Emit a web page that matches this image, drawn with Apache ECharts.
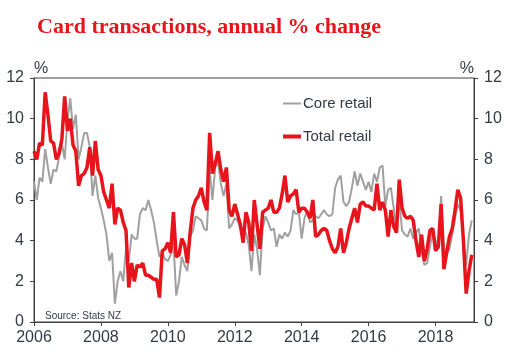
<!DOCTYPE html>
<html>
<head>
<meta charset="utf-8">
<script src="https://cdn.jsdelivr.net/npm/echarts@6/dist/echarts.min.js"></script>
<style>html,body{margin:0;padding:0;background:#fff}#c{width:512px;height:359px}</style>
</head>
<body>
<div id="c"></div>
<script>
// Monthly data, Jan 2006 .. Feb 2019
const startYear = 2006;
const coreRetail = [
6.9,6.0,7.1,6.9,8.5,7.6,6.8,7.5,7.4,8.1,8.8,8.0,
9.9,11.0,9.5,10.2,8.0,8.6,9.3,9.3,8.6,6.2,7.2,6.1,
5.6,5.0,4.3,3.0,3.4,0.9,2.0,2.5,2.0,3.6,3.0,4.3,
4.1,4.1,5.3,5.6,5.5,6.0,5.5,4.9,4.0,3.2,3.4,3.1,
3.0,3.3,4.0,1.3,2.0,3.2,2.8,2.5,4.2,4.5,5.2,5.1,
5.0,4.6,4.5,7.5,6.0,7.6,7.9,6.8,6.2,6.8,4.6,4.8,
5.1,5.0,4.6,4.3,4.4,3.8,2.5,4.3,3.6,2.3,4.6,5.2,
4.9,4.5,4.6,3.7,4.3,4.1,4.4,4.2,4.5,5.5,5.3,5.4,
4.1,5.1,5.5,4.9,5.0,5.2,5.1,5.3,5.5,5.3,5.2,5.3,
6.6,7.0,7.2,5.9,5.7,5.9,6.6,7.4,6.7,7.3,6.9,6.5,
6.9,6.4,7.3,6.9,7.6,7.7,5.7,6.5,6.6,5.6,4.6,6.0,
4.5,4.3,4.2,4.6,4.1,4.4,4.6,3.5,2.8,2.9,3.7,4.5,
4.0,3.6,6.2,3.7,3.4,3.6,4.3,5.1,5.8,5.5,4.0,2.8,
4.3,5.0
];
const totalRetail = [
8.4,8.0,8.8,8.7,11.3,10.2,8.9,8.8,8.0,8.3,9.0,11.1,
9.4,10.0,8.7,8.4,6.7,7.2,7.3,7.6,8.6,7.2,8.9,7.5,
7.2,6.4,6.0,5.6,6.8,4.8,5.6,5.5,4.9,4.5,1.7,2.9,
2.0,2.8,2.7,2.9,2.3,2.3,2.2,2.1,2.1,1.2,3.5,3.6,
3.9,3.4,5.4,3.2,3.3,4.1,3.8,2.9,4.4,5.6,6.0,6.2,
6.6,5.9,5.5,9.3,7.3,7.8,8.4,7.5,6.9,7.6,5.5,5.2,
5.8,5.3,4.8,3.9,5.4,4.9,3.5,6.0,4.8,3.6,5.4,5.5,
5.6,6.0,5.4,5.4,5.6,6.3,7.2,5.9,6.2,6.3,6.5,5.4,
5.6,5.6,5.4,5.1,6.0,4.2,4.3,4.5,4.6,4.5,4.0,3.6,
3.4,3.7,4.6,3.4,3.9,4.6,5.1,5.6,4.9,5.8,5.9,5.7,
5.7,5.6,5.5,6.8,5.5,5.9,5.5,4.2,5.5,4.7,4.4,7.0,
5.6,5.2,5.1,5.2,5.0,4.0,3.2,4.3,3.0,3.6,4.5,4.6,
3.5,3.7,5.8,2.6,3.4,4.2,4.6,5.5,6.5,6.1,4.0,1.4,
2.5,3.3
];
const xTickYears = [2006, 2008, 2010, 2012, 2014, 2016, 2018];

const toPairs = arr => arr.map((v, i) => [startYear + i / 12, v]);

const axisColor = '#404040';
const labelColor = '#333a44';
const chart = echarts.init(document.getElementById('c'), null, {renderer: 'canvas'});
chart.setOption({
  animation: false,
  backgroundColor: '#fff',
  title: [{
    text: 'Card transactions, annual % change',
    left: 32, top: 11,
    textStyle: {fontFamily: 'Liberation Serif', fontWeight: 'bold', fontSize: 22, color: '#e8141c'}
  }, {
    text: 'Source: Stats NZ',
    left: 40, top: 306,
    textStyle: {fontFamily: 'Liberation Sans', fontWeight: 'normal', fontSize: 10, color: '#333a44'}
  }],
  legend: [{
    data: ['Core retail'], orient: 'vertical', left: 283, top: 96, padding: 0,
    icon: 'rect', itemWidth: 18, itemHeight: 2, itemGap: 0,
    textStyle: {fontFamily: 'Liberation Sans', fontSize: 15, color: labelColor, padding: [0,0,0,-3]}
  }, {
    data: ['Total retail'], orient: 'vertical', left: 283, top: 129, padding: 0,
    icon: 'rect', itemWidth: 18, itemHeight: 4, itemGap: 0,
    textStyle: {fontFamily: 'Liberation Sans', fontSize: 15, color: labelColor, padding: [0,0,0,-3]}
  }],
  grid: {left: 34, right: 38, top: 78, bottom: 37, show: true, borderColor: axisColor, borderWidth: 1},
  xAxis: {
    type: 'value', min: 2006, max: 2019.15, interval: 2,
    axisLine: {show: true, lineStyle: {color: axisColor}},
    axisTick: {show: true, length: 4, lineStyle: {color: axisColor},
      customValues: xTickYears},
    axisLabel: {fontFamily: 'Liberation Sans', fontSize: 16, color: labelColor, margin: 8,
      customValues: xTickYears, formatter: v => String(v)},
    splitLine: {show: false}
  },
  yAxis: [{
    type: 'value', min: 0, max: 12, interval: 2, position: 'left',
    name: '%', nameLocation: 'end', nameGap: 1,
    nameTextStyle: {fontFamily: 'Liberation Sans', fontSize: 16, color: labelColor, align: 'left'},
    axisLine: {show: true, lineStyle: {color: axisColor}},
    axisTick: {show: true, length: 4, lineStyle: {color: axisColor}},
    axisLabel: {fontFamily: 'Liberation Sans', fontSize: 16, color: labelColor, margin: 10},
    splitLine: {show: false}
  }, {
    type: 'value', min: 0, max: 12, interval: 2, position: 'right',
    name: '%', nameLocation: 'end', nameGap: 1,
    nameTextStyle: {fontFamily: 'Liberation Sans', fontSize: 16, color: labelColor, align: 'right'},
    axisLine: {show: true, lineStyle: {color: axisColor}},
    axisTick: {show: true, length: 4, lineStyle: {color: axisColor}},
    axisLabel: {fontFamily: 'Liberation Sans', fontSize: 16, color: labelColor, margin: 10},
    splitLine: {show: false}
  }],
  series: [{
    name: 'Core retail', type: 'line', data: toPairs(coreRetail),
    showSymbol: false, symbol: 'none', color: '#a0a0a0',
    lineStyle: {width: 2, color: '#a0a0a0'}, z: 2
  }, {
    name: 'Total retail', type: 'line', data: toPairs(totalRetail),
    showSymbol: false, symbol: 'none', color: '#e8141c',
    lineStyle: {width: 3.5, color: '#e8141c'}, z: 3
  }]
});
</script>
</body>
</html>
